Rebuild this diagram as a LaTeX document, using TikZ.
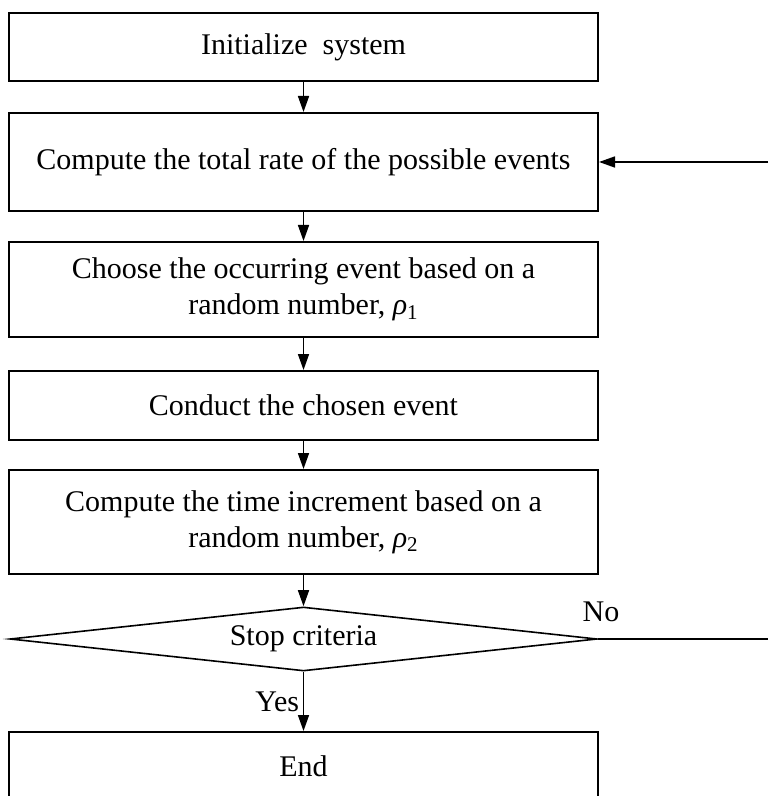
\documentclass[tikz,border=0pt]{standalone}
\usepackage{fontspec}
\setmainfont{Liberation Serif}
\usetikzlibrary{arrows.meta,shapes.geometric}

\def\boxWidth{294.5pt}
\def\boxX{303.5}
\def\rightEdge{768}

\tikzset{
  stepbox/.style={draw,line width=1pt,minimum width=\boxWidth,inner sep=0pt,align=center},
  testbox/.style={draw,diamond,line width=0.8pt,aspect=9.2,inner sep=0pt,minimum width=293.5pt,minimum height=32pt},
  flow/.style={line width=0.8pt,-{Triangle[length=8pt,width=5.5pt]}},
  plain/.style={line width=0.8pt},
}

\begin{document}
\begin{tikzpicture}[x=0.5pt,y=-0.5pt,font=\fontsize{15}{18}\selectfont]
    \useasboundingbox (0,0) rectangle (768,796);

    \foreach \n/\y/\h/\t in {init/47/34pt/{Initialize\ \ system},
        rate/162/49pt/{Compute the total rate of the possible events},
        choose/289.5/47.5pt/{Choose the occurring event based on a\\random number, {\itshape ρ}\textsubscript{1}},
        conduct/405.5/34.5pt/{Conduct the chosen event},
        increment/522/52pt/{Compute the time increment based on a\\random number, {\itshape ρ}\textsubscript{2}},
        finish/766/34pt/{End}} {
      \node[stepbox,minimum height=\h] (\n) at (\boxX,\y) {\t};
    }
    \node[testbox] (stop) at (\boxX,639) {Stop criteria};

    \foreach \a/\b in {init/rate,rate/choose,choose/conduct,conduct/increment,increment/stop,stop/finish} {
      \draw[flow] (\a.south) -- (\b.north);
    }

    \coordinate (noend) at (\rightEdge,639);
    \coordinate (backstart) at (\rightEdge,162);
    \draw[plain] (stop.east) -- (noend);
    \draw[flow] (backstart) -- (rate.east);

    \node (nolabel) at (601,612) {No};
    \node[anchor=east,inner sep=2pt] (yeslabel) at (stop.south |- 0,702) {Yes};
\end{tikzpicture}
\end{document}
